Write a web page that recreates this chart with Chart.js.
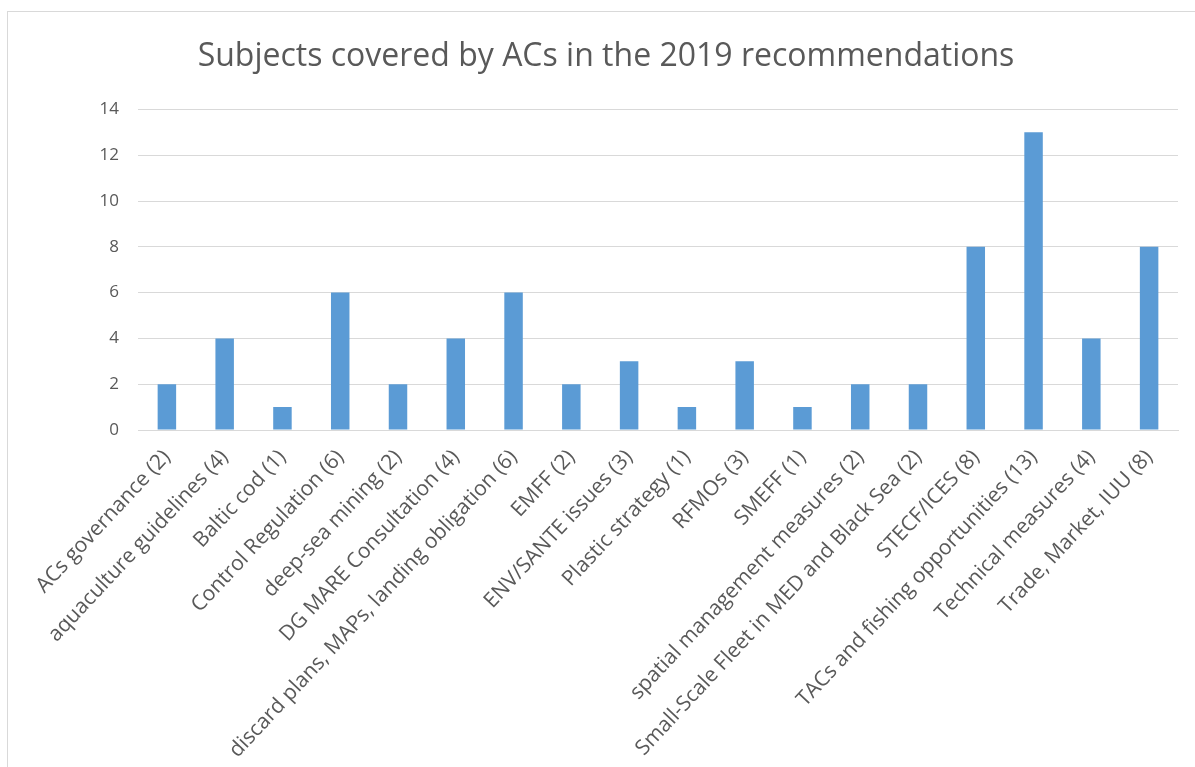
<!DOCTYPE html>
<html><head><meta charset="utf-8">
<script src="https://cdn.jsdelivr.net/npm/chart.js@4/dist/chart.umd.min.js"></script>
<style>
html,body{margin:0;padding:0;background:#fff;overflow:hidden;width:1195px;height:767px;}
#frame{position:absolute;left:7px;top:11px;width:1300px;height:900px;border-left:1px solid #d9d9d9;border-top:1px solid #d9d9d9;}
#c{position:absolute;left:34px;top:12px;}
</style></head><body>
<div id="frame"></div>
<canvas id="c" width="1164" height="780"></canvas>
<script>
const chartTitle = "Subjects covered by ACs in the 2019 recommendations";
const categories = [
  "ACs governance (2)",
  "aquaculture guidelines (4)",
  "Baltic cod (1)",
  "Control Regulation (6)",
  "deep-sea mining (2)",
  "DG MARE Consultation (4)",
  "discard plans, MAPs, landing obligation (6)",
  "EMFF (2)",
  "ENV/SANTE issues (3)",
  "Plastic strategy (1)",
  "RFMOs (3)",
  "SMEFF (1)",
  "spatial management measures (2)",
  "Small-Scale Fleet in MED and Black Sea (2)",
  "STECF/ICES (8)",
  "TACs and fishing opportunities (13)",
  "Technical measures (4)",
  "Trade, Market, IUU (8)"
];
const counts = [2,4,1,6,2,4,6,2,3,1,3,1,2,2,8,13,4,8];
const yMin = 0, yMax = 14, yStep = 2;

const FONT = "'Open Sans', 'Liberation Sans', sans-serif";
const TXT = "#595959";
const GRID = "#d9d9d9";

new Chart(document.getElementById('c'), {
  type: 'bar',
  data: {
    labels: categories,
    datasets: [{
      data: counts,
      backgroundColor: '#5B9BD5',
      borderWidth: 0,
      categoryPercentage: 1.0,
      barPercentage: 0.32
    }]
  },
  options: {
    responsive: false,
    animation: false,
    devicePixelRatio: 1,
    layout: { padding: { left: 0, right: 20, top: 0, bottom: 0 } },
    plugins: {
      legend: { display: false },
      tooltip: { enabled: false },
      title: {
        display: true,
        text: chartTitle,
        color: TXT,
        font: { family: FONT, size: 32, weight: 'normal' },
        padding: { top: 26, bottom: 33 }
      }
    },
    scales: {
      y: {
        min: yMin, max: yMax,
        ticks: { stepSize: yStep, color: TXT, font: { family: FONT, size: 17 }, padding: 19 },
        grid: { color: GRID, lineWidth: 1, drawTicks: false },
        border: { display: false },
        afterFit: s => { s.width = 104; }
      },
      x: {
        ticks: { color: TXT, font: { family: FONT, size: 21 }, minRotation: 47, maxRotation: 47, autoSkip: false, padding: 15 },
        grid: { display: false, drawTicks: false },
        border: { display: true, color: GRID, width: 1 },
        afterFit: s => { s.height = 362; s.paddingLeft = 0; s.paddingRight = 0; }
      }
    }
  }
});
</script>
</body></html>
